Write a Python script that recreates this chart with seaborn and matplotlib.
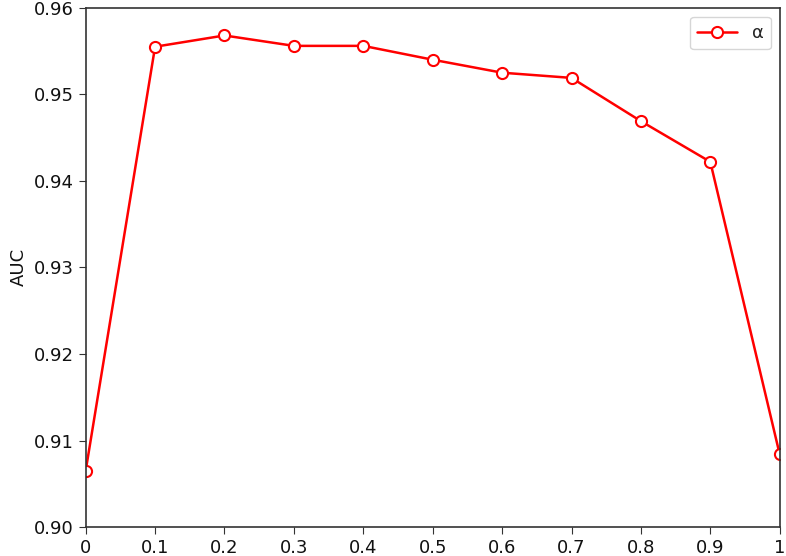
import numpy as np
import pandas as pd
import seaborn as sns
import matplotlib.pyplot as plt

sns.set_style("ticks")
plt.rcParams['font.family'] = ['DejaVu Sans']

alpha_vals = [0, 0.1, 0.2, 0.3, 0.4, 0.5, 0.6, 0.7, 0.8, 0.9, 1]
auc_vals = [0.9065, 0.9555, 0.9568, 0.9556, 0.9556, 0.9540, 0.9525, 0.9519, 0.9469, 0.9422, 0.9084]
xtick_labels = ["0", "0.1", "0.2", "0.3", "0.4", "0.5", "0.6", "0.7", "0.8", "0.9", "1"]
ytick_vals = [0.90, 0.91, 0.92, 0.93, 0.94, 0.95, 0.96]

df = pd.DataFrame({"alpha": alpha_vals, "AUC": auc_vals})

fig = plt.figure(figsize=(7.86, 5.56), dpi=100)
ax = fig.add_axes([0.109, 0.052, 0.883, 0.934])

sns.lineplot(data=df, x="alpha", y="AUC", ax=ax, color="red", linewidth=1.8,
             marker="o", markersize=8, markerfacecolor="white",
             markeredgecolor="red", markeredgewidth=1.5, label="α")

ax.set_xlim(0, 1)
ax.set_ylim(0.90, 0.96)
ax.set_xticks(alpha_vals)
ax.set_xticklabels(xtick_labels, fontsize=13, color="#111111")
ax.set_yticks(ytick_vals)
ax.set_yticklabels(["%.2f" % v for v in ytick_vals], fontsize=13, color="#111111")
ax.set_xlabel("")
ax.set_ylabel("AUC", fontsize=13, color="#111111")
for s in ax.spines.values():
    s.set_visible(True)
    s.set_color("#333333")
    s.set_linewidth(1.2)
ax.tick_params(color="#333333", length=5)

leg = ax.legend(loc="upper right", fontsize=13, handlelength=2.2, frameon=True)
leg.get_frame().set_edgecolor("#cccccc")

fig.savefig("out.png", dpi=100)
